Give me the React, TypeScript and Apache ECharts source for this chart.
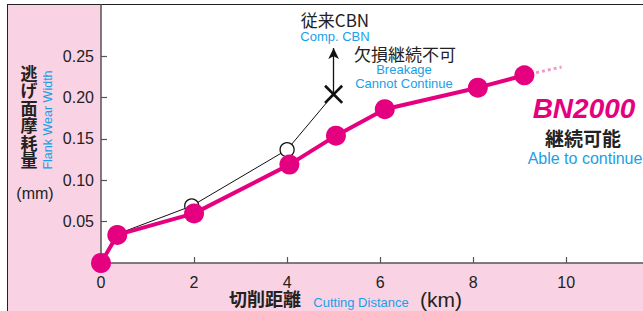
import React, { useEffect, useRef } from "react";
import * as echarts from "echarts";

// Cutting distance (km) / flank wear width (mm)
const bn2000X = [0, 0.35, 2, 4.05, 5.05, 6.1, 8.1, 9.1];
const bn2000Y = [0, 0.034, 0.06, 0.119, 0.154, 0.186, 0.212, 0.227];
const bn2000ExtX = [9.1, 9.9];
const bn2000ExtY = [0.227, 0.237];
const cbnX = [0, 0.35, 1.95, 4.0, 5.0];
const cbnY = [0, 0.035, 0.069, 0.137, 0.204];
const arrowY = [0.204, 0.26];
const xTicks = [0, 2, 4, 6, 8, 10];
const yTicks = [0.05, 0.1, 0.15, 0.2, 0.25];
const yTitleChars = ["逃", "げ", "面", "摩", "耗", "量"];

const PINK = "#e5007f";
const BLUE = "#1aa0e6";
const BG = "#f9d3e4";
const EN = "'Liberation Sans', Arial, sans-serif";
const JP = "'Noto Sans CJK JP', sans-serif";

export default function App() {
  const ref = useRef<HTMLDivElement>(null);
  useEffect(() => {
    document.body.style.margin = "0";
    const chart = echarts.init(ref.current!, undefined, { renderer: "svg" });
    const txt = (x: number, y: number, text: string, size: number, color: string, font: string, extra: any = {}) => ({
      type: "text",
      x,
      y,
      style: { text, fontSize: size, fill: color, fontFamily: font, align: "center", verticalAlign: "middle", lineHeight: size, ...extra },
    });
    chart.setOption({
      animation: false,
      grid: { left: 101, top: 5, right: 0, bottom: 48, show: true, backgroundColor: "#fff", borderWidth: 0 },
      xAxis: {
        type: "value",
        min: 0,
        max: 11.65,
        interval: 2,
        splitLine: { show: false },
        axisLine: { lineStyle: { color: "#555", width: 1.5 } },
        axisTick: { inside: true, length: 6, lineStyle: { color: "#555", width: 1.2 }, customValues: xTicks.slice(1) },
        axisLabel: { customValues: xTicks, fontSize: 16, color: "#222", fontFamily: EN, margin: 11 },
      },
      yAxis: {
        type: "value",
        min: 0,
        max: 0.312,
        interval: 0.05,
        splitLine: { show: false },
        axisLine: { show: true, lineStyle: { color: "#555", width: 1.5 } },
        axisTick: { show: true, inside: true, length: 6, lineStyle: { color: "#555", width: 1.2 }, customValues: yTicks },
        axisLabel: {
          customValues: yTicks,
          fontSize: 16,
          color: "#222",
          fontFamily: EN,
          margin: 7,
          formatter: (v: number) => v.toFixed(2),
        },
      },
      series: [
        {
          type: "line",
          data: cbnX.map((x, i) => {
            const v = [x, cbnY[i]];
            if (x === 1.95 || x === 4.0) return { value: v, symbol: "circle", symbolSize: 14 };
            if (i === cbnX.length - 1)
              return {
                value: v,
                symbol: "path://M2,0 L10,8 L18,0 L20,2 L12,10 L20,18 L18,20 L10,12 L2,20 L0,18 L8,10 L0,2 Z",
                symbolSize: 19,
                itemStyle: { color: "#111", borderWidth: 0 },
              };
            return { value: v, symbol: "none" };
          }),
          lineStyle: { color: "#111", width: 1 },
          itemStyle: { color: "#fff", borderColor: "#111", borderWidth: 1.3 },
          clip: false,
          z: 3,
          markLine: {
            silent: true,
            symbol: ["none", "arrow"],
            symbolSize: [8, 11],
            label: { show: false },
            lineStyle: { color: "#111", width: 1.3, type: "solid" },
            data: [[{ coord: [cbnX[cbnX.length - 1], arrowY[0]] }, { coord: [cbnX[cbnX.length - 1], arrowY[1]] }]],
          },
        },
        {
          type: "line",
          data: bn2000ExtX.map((x, i) => [x, bn2000ExtY[i]]),
          symbol: "none",
          lineStyle: { color: "#f39bc8", width: 3, type: [3, 3] },
          z: 3,
        },
        {
          type: "line",
          data: bn2000X.map((x, i) => [x, bn2000Y[i]]),
          symbol: "circle",
          symbolSize: 20,
          showAllSymbol: true,
          lineStyle: { color: PINK, width: 4 },
          itemStyle: { color: PINK },
          clip: false,
          z: 4,
        },
      ],
      graphic: [
        txt(335, 19, "従来CBN", 17, "#222", JP),
        txt(335, 36, "Comp. CBN", 13, BLUE, EN),
        txt(405, 53, "欠損継続不可", 17, "#222", JP),
        txt(404, 69, "Breakage", 13, BLUE, EN),
        txt(404, 83, "Cannot Continue", 13, BLUE, EN),
        txt(584, 108, "BN2000", 28, PINK, EN, { fontWeight: "bold", fontStyle: "italic" }),
        txt(583, 137, "継続可能", 19, "#222", JP, { fontWeight: "bold" }),
        txt(585, 158, "Able to continue", 16, BLUE, EN),
        ...yTitleChars.map((c, i) => txt(29, 72 + i * 17.5, c, 17, "#222", JP, { fontWeight: "bold" })),
        txt(35, 193, "(mm)", 16, "#222", EN),
        {
          type: "text",
          x: 48,
          y: 120,
          rotation: Math.PI / 2,
          style: { text: "Flank Wear Width", fontSize: 12.5, fill: BLUE, fontFamily: EN, align: "center", verticalAlign: "middle" },
        },
        txt(265, 298, "切削距離", 18, "#222", JP, { fontWeight: "bold" }),
        txt(361, 302, "Cutting Distance", 13, BLUE, EN),
        txt(441, 299, "(km)", 21, "#222", EN),
      ],
    });
    return () => chart.dispose();
  }, []);
  return (
    <div style={{ position: "relative", width: 643, height: 311, background: "#fff", overflow: "hidden" }}>
      <div
        style={{
          position: "absolute",
          left: 7,
          top: 4,
          width: 700,
          height: 400,
          background: BG,
          borderLeft: "1.5px solid #222",
          borderTop: "1.5px solid #222",
          boxSizing: "border-box",
        }}
      />
      <div ref={ref} style={{ position: "absolute", left: 0, top: 0, width: 643, height: 311 }} />
    </div>
  );
}
